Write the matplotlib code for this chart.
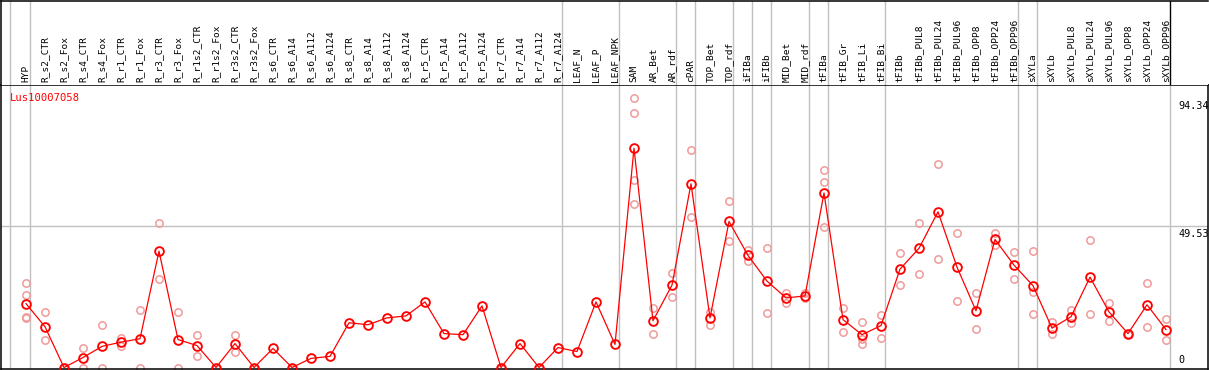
import matplotlib
matplotlib.use('Agg')
import matplotlib.pyplot as plt

# ── Datos ─────────────────────────────────────────────────────────────────────
gene = 'Lus10007058'

samples = ['HYP', 'R_s2_CTR', 'R_s2_Fox', 'R_s4_CTR', 'R_s4_Fox', 'R_r1_CTR',
           'R_r1_Fox', 'R_r3_CTR', 'R_r3_Fox', 'R_r1s2_CTR', 'R_r1s2_Fox',
           'R_r3s2_CTR', 'R_r3s2_Fox', 'R_s6_CTR', 'R_s6_A14', 'R_s6_A112',
           'R_s6_A124', 'R_s8_CTR', 'R_s8_A14', 'R_s8_A112', 'R_s8_A124',
           'R_r5_CTR', 'R_r5_A14', 'R_r5_A112', 'R_r5_A124', 'R_r7_CTR',
           'R_r7_A14', 'R_r7_A112', 'R_r7_A124', 'LEAF_N', 'LEAF_P', 'LEAF_NPK',
           'SAM', 'AR_Bet', 'AR_rdf', 'cPAR', 'TOP_Bet', 'TOP_rdf', 'iFIBa',
           'iFIBb', 'MID_Bet', 'MID_rdf', 'tFIBa', 'tFIB_Gr', 'tFIB_Li',
           'tFIB_Bi', 'tFIBb', 'tFIBb_PUL8', 'tFIBb_PUL24', 'tFIBb_PUL96',
           'tFIBb_OPP8', 'tFIBb_OPP24', 'tFIBb_OPP96', 'sXYLa', 'sXYLb',
           'sXYLb_PUL8', 'sXYLb_PUL24', 'sXYLb_PUL96', 'sXYLb_OPP8',
           'sXYLb_OPP24', 'sXYLb_OPP96']

means = [22.4, 14.3, 0, 3.5, 7.4, 8.9, 10.1, 40.8, 9.8, 7.7, 0, 8.4, 0, 6.7, 0,
         3.2, 3.9, 15.7, 15.0, 17.4, 18.1, 23.0, 11.9, 11.5, 21.6, 0, 8.4, 0,
         7.0, 5.6, 23.0, 8.1, 76.9, 16.4, 28.9, 64.4, 17.4, 51.2, 39.3, 30.3,
         24.4, 25.1, 61.2, 16.8, 11.5, 14.7, 34.5, 41.8, 54.6, 35.2, 19.9,
         44.9, 35.9, 28.7, 13.8, 17.8, 31.7, 19.5, 11.9, 22.0, 13.3]

replicates = [
    [29.7, 25.5, 17.8, 17.4], [19.6, 9.6], [0, 0], [7.0, 0], [14.8, 0],
    [10.3, 7.5], [20.2, 0], [50.8, 31.0], [19.5, 0], [11.3, 4.2], [0, 0],
    [11.3, 5.6], [0, 0], [], [0, 0], [], [], [], [], [], [], [], [], [], [],
    [0, 0], [], [0, 0], [], [], [], [],
    [94.34, 89.4, 65.8, 57.5], [20.7, 11.9], [33.1, 24.7], [76.2, 52.6],
    [19.5, 15.0], [58.5, 44.2], [41.1, 37.5], [41.9, 19.2], [26.2, 22.5],
    [26.0, 24.5], [69.2, 65.1, 49.4], [20.7, 12.3], [15.8, 10.0, 8.4],
    [18.5, 10.5], [40.0, 29.0], [50.5, 32.7], [71.4, 38.1], [47.0, 23.4],
    [26.2, 13.4], [47.0, 42.8], [40.4, 31.0], [40.7, 26.5, 18.9],
    [15.8, 11.8], [20.2, 15.7], [44.6, 18.8], [22.7, 16.4], [11.9, 11.9],
    [29.6, 14.3], [17.1, 9.5]]

# separadores de grupo (tras estas muestras)
group_ends = [0, 28, 31, 34, 35, 37, 38, 39, 41, 42, 45, 52, 53, 60]
y_max = 94.34
y_mid = y_max * 1.05 / 2

RED = '#ff0000'
PINK = '#f09a9a'
GRAY = '#c0c0c0'
MONO = 'DejaVu Sans Mono'

# ── Figura ────────────────────────────────────────────────────────────────────
W, H = 1209, 370
fig = plt.figure(figsize=(W / 100, H / 100), dpi=100)

top_px, bot_px = 85, 369
ax = fig.add_axes([1 / W, (H - bot_px) / H, 1207 / W, (bot_px - top_px) / H])
hd = fig.add_axes([1 / W, (H - top_px) / H, 1207 / W, top_px / H - 0.5 / H])

xlim = (-25 / 19, 1182 / 19)
for a in (ax, hd):
    a.set_xlim(*xlim)
    a.set_xticks([])
    a.set_yticks([])
    for s in a.spines.values():
        s.set_color('black')
        s.set_linewidth(1.1)
ax.set_ylim(-0.52, y_max * 1.05)
hd.set_ylim(0, 1)
hd.spines['right'].set_visible(False)
hd.spines['bottom'].set_visible(False)

# líneas verticales
seps = [-0.84] + [g + 0.23 for g in group_ends]
for x in seps:
    ax.axvline(x, color=GRAY, lw=1.0, zorder=0)
    hd.axvline(x, color='black' if x == seps[-1] else GRAY, lw=1.0, zorder=0)
ax.axhline(y_mid, color=GRAY, lw=1.0, zorder=0)

# réplicas
xs = list(range(len(samples)))
for i, reps in enumerate(replicates):
    ax.plot([i] * len(reps), reps, 'o', ms=5.3, mfc='none', mec=PINK,
            mew=1.1, clip_on=False, zorder=2)

ax.plot(xs, means, '-', color=RED, lw=0.9, zorder=3, clip_on=False)
ax.plot(xs, means, 'o', ms=6.3, mfc='none', mec=RED, mew=1.35, zorder=4,
        clip_on=False)

# etiquetas de muestra
for i, s in enumerate(samples):
    hd.text(i, 0.035, s, rotation=90, ha='center', va='bottom',
            fontsize=6.8, family=MONO)

# eje derecho
for v, txt in [(y_max, f'{y_max:.2f}'), (y_mid, f'{y_mid:.2f}')]:
    ax.annotate(txt, xy=(60.65, v), xytext=(0, -2), textcoords='offset points',
                ha='left', va='top', fontsize=7.3, family=MONO)
ax.annotate('0', xy=(60.65, 0), xytext=(0, 1.5), textcoords='offset points',
            ha='left', va='bottom', fontsize=7.3, family=MONO)

ax.text(0.0075, 0.955, gene, transform=ax.transAxes, color=RED,
        fontsize=7.6, family=MONO, ha='left', va='center')

plt.savefig('out.png', dpi=100)
